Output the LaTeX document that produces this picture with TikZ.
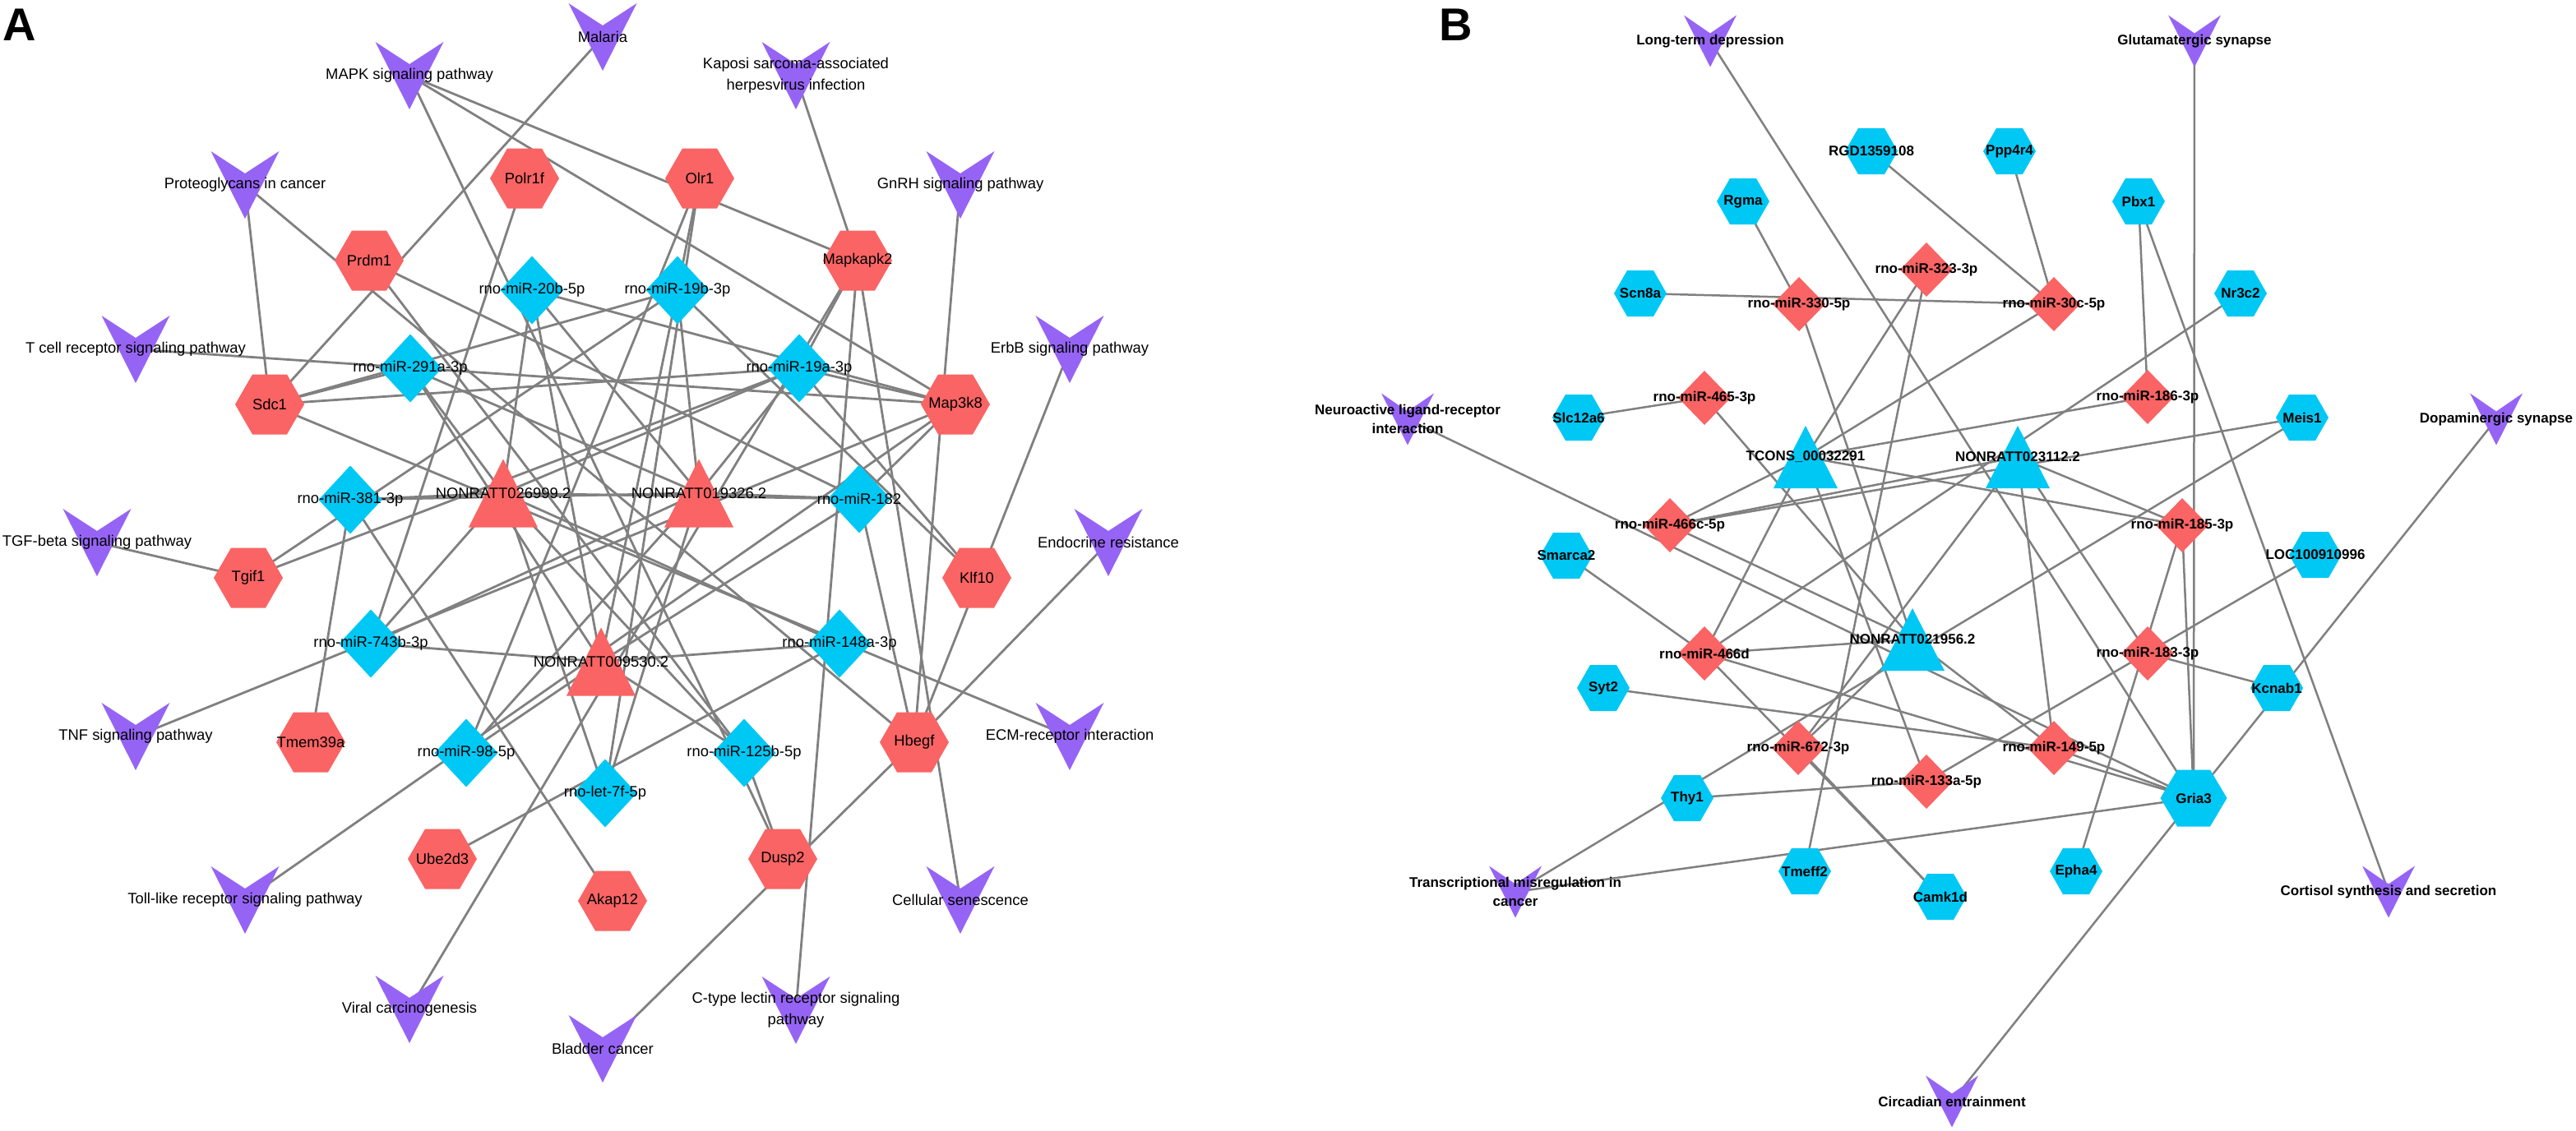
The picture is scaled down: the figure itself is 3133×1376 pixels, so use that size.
\documentclass[tikz,border=0pt]{standalone}
\usepackage{fontspec}
\setmainfont{Liberation Sans}
\pgfdeclarelayer{back}
\pgfdeclarelayer{bg}
\pgfsetlayers{back,bg,main}
\definecolor{redN}{RGB}{250,100,100}
\definecolor{blueN}{RGB}{0,200,245}
\definecolor{purN}{RGB}{150,100,245}
\definecolor{edgeC}{RGB}{128,128,128}
\tikzset{
  hexRA/.pic={\fill[redN] (-42,0)--(-21,-36.5)--(21,-36.5)--(42,0)--(21,36.5)--(-21,36.5)--cycle;},
  diaBA/.pic={\fill[blueN] (0,-41.5)--(38.5,0)--(0,41.5)--(-38.5,0)--cycle;},
  triRA/.pic={\fill[redN] (0,-41.5)--(42,41.5)--(-42,41.5)--cycle;},
  veeA/.pic={\fill[purN] (-41.5,-41)--(0,-14)--(41.5,-41)--(0,41)--cycle;},
  hexBB/.pic={\fill[blueN] (-32,0)--(-16,-28)--(16,-28)--(32,0)--(16,28)--(-16,28)--cycle;},
  hexBig/.pic={\fill[blueN] (-40.5,0)--(-20,-34.5)--(20,-34.5)--(40.5,0)--(20,34.5)--(-20,34.5)--cycle;},
  diaRB/.pic={\fill[redN] (0,-33)--(32,0)--(0,33)--(-32,0)--cycle;},
  triBB/.pic={\fill[blueN] (0,-38)--(39,38)--(-39,38)--cycle;},
  veeB/.pic={\fill[purN] (-32,-31.5)--(0,-9.5)--(32,-31.5)--(0,31.5)--cycle;},
  labA/.style={inner sep=0pt,align=center,font=\fontsize{18.4}{26}\selectfont},
  labB/.style={inner sep=0pt,align=center,font=\bfseries\fontsize{17}{23.5}\selectfont},
  edgA/.style={draw=edgeC,line width=2.8pt},
  edgB/.style={draw=edgeC,line width=2.5pt},
  panel/.style={inner sep=0pt,anchor=base west,font=\bfseries\fontsize{56}{56}\selectfont}
}
\newcommand\mkNd[6]{\pic at (#4,#5) {#1}; \node[#2] (#3) at (#4,#5) {#6};}
\begin{document}
\begin{tikzpicture}[x=1pt,y=-1pt]
\useasboundingbox (0,0) rectangle (3133,1376);
\begin{pgfonlayer}{back}
\fill[white] (0,0) rectangle (3133,1376);
\end{pgfonlayer}
\node[panel] (pA) at (3,49) {A};
\node[panel] (pB) at (1750,49) {B};
% ---------- Panel A ----------
\mkNd{veeA}{labA}{mapk}{498}{92}{MAPK signaling pathway}
\mkNd{veeA}{labA}{malaria}{733}{45}{Malaria}
\mkNd{veeA}{labA}{kaposi}{968}{92}{Kaposi sarcoma-associated\\herpesvirus infection}
\mkNd{veeA}{labA}{proteo}{298}{225}{Proteoglycans in cancer}
\mkNd{veeA}{labA}{gnrh}{1168}{225}{GnRH signaling pathway}
\mkNd{veeA}{labA}{tcell}{165}{425}{T cell receptor signaling pathway}
\mkNd{veeA}{labA}{erbb}{1301}{425}{ErbB signaling pathway}
\mkNd{veeA}{labA}{tgf}{118}{660}{TGF-beta signaling pathway}
\mkNd{veeA}{labA}{endo}{1348}{660}{Endocrine resistance}
\mkNd{veeA}{labA}{tnf}{165}{896}{TNF signaling pathway}
\mkNd{veeA}{labA}{ecm}{1301}{896}{ECM-receptor interaction}
\mkNd{veeA}{labA}{toll}{298}{1095}{Toll-like receptor signaling pathway}
\mkNd{veeA}{labA}{cell}{1168}{1095}{Cellular senescence}
\mkNd{veeA}{labA}{viral}{498}{1228}{Viral carcinogenesis}
\mkNd{veeA}{labA}{ctype}{968}{1229}{C-type lectin receptor signaling\\pathway}
\mkNd{veeA}{labA}{bladder}{733}{1276}{Bladder cancer}
\mkNd{hexRA}{labA}{polr1f}{638}{217}{Polr1f}
\mkNd{hexRA}{labA}{olr1}{851}{217}{Olr1}
\mkNd{hexRA}{labA}{prdm1}{449}{317}{Prdm1}
\mkNd{hexRA}{labA}{mapkapk2}{1043}{317}{Mapkapk2}
\mkNd{hexRA}{labA}{sdc1}{328}{492}{Sdc1}
\mkNd{hexRA}{labA}{map3k8}{1162}{492}{Map3k8}
\mkNd{hexRA}{labA}{tgif1}{302}{703}{Tgif1}
\mkNd{hexRA}{labA}{klf10}{1188}{703}{Klf10}
\mkNd{hexRA}{labA}{tmem39a}{378}{903}{Tmem39a}
\mkNd{hexRA}{labA}{hbegf}{1112}{903}{Hbegf}
\mkNd{hexRA}{labA}{ube2d3}{538}{1045}{Ube2d3}
\mkNd{hexRA}{labA}{dusp2}{952}{1045}{Dusp2}
\mkNd{hexRA}{labA}{akap12}{745}{1096}{Akap12}
\mkNd{diaBA}{labA}{m20b}{647}{353}{rno-miR-20b-5p}
\mkNd{diaBA}{labA}{m19b}{824}{353}{rno-miR-19b-3p}
\mkNd{diaBA}{labA}{m291a}{499}{448}{rno-miR-291a-3p}
\mkNd{diaBA}{labA}{m19a}{972}{448}{rno-miR-19a-3p}
\mkNd{diaBA}{labA}{m381}{426}{608}{rno-miR-381-3p}
\mkNd{diaBA}{labA}{m182}{1045}{607}{rno-miR-182}
\mkNd{diaBA}{labA}{m743b}{451}{783}{rno-miR-743b-3p}
\mkNd{diaBA}{labA}{m148a}{1021}{783}{rno-miR-148a-3p}
\mkNd{diaBA}{labA}{m98}{567}{916}{rno-miR-98-5p}
\mkNd{diaBA}{labA}{m125b}{905}{916}{rno-miR-125b-5p}
\mkNd{diaBA}{labA}{let7f}{736}{965}{rno-let-7f-5p}
\mkNd{triRA}{labA}{n026}{612}{600}{NONRATT026999.2}
\mkNd{triRA}{labA}{n019}{850}{600}{NONRATT019326.2}
\mkNd{triRA}{labA}{n009}{731}{805}{NONRATT009530.2}
% ---------- Panel B ----------
\mkNd{veeB}{labB}{ltd}{2080}{50}{Long-term depression}
\mkNd{veeB}{labB}{glut}{2669}{50}{Glutamatergic synapse}
\mkNd{veeB}{labB}{neuro}{1712}{510}{Neuroactive ligand-receptor\\interaction}
\mkNd{veeB}{labB}{dopa}{3036}{510}{Dopaminergic synapse}
\mkNd{veeB}{labB}{trans}{1843}{1085}{Transcriptional misregulation in\\cancer}
\mkNd{veeB}{labB}{cort}{2905}{1085}{Cortisol synthesis and secretion}
\mkNd{veeB}{labB}{circ}{2374}{1340}{Circadian entrainment}
\mkNd{hexBB}{labB}{rgma}{2120}{245}{Rgma}
\mkNd{hexBB}{labB}{rgd}{2276}{184}{RGD1359108}
\mkNd{hexBB}{labB}{ppp4r4}{2444}{184}{Ppp4r4}
\mkNd{hexBB}{labB}{pbx1}{2601}{245}{Pbx1}
\mkNd{hexBB}{labB}{scn8a}{1995}{357}{Scn8a}
\mkNd{hexBB}{labB}{nr3c2}{2725}{357}{Nr3c2}
\mkNd{hexBB}{labB}{slc12a6}{1920}{508}{Slc12a6}
\mkNd{hexBB}{labB}{meis1}{2800}{508}{Meis1}
\mkNd{hexBB}{labB}{smarca2}{1905}{676}{Smarca2}
\mkNd{hexBB}{labB}{loc}{2816}{675}{LOC100910996}
\mkNd{hexBB}{labB}{syt2}{1950}{837}{Syt2}
\mkNd{hexBB}{labB}{kcnab1}{2769}{837}{Kcnab1}
\mkNd{hexBB}{labB}{thy1}{2052}{971}{Thy1}
\mkNd{hexBig}{labB}{gria3}{2668}{971}{Gria3}
\mkNd{hexBB}{labB}{tmeff2}{2195}{1060}{Tmeff2}
\mkNd{hexBB}{labB}{epha4}{2525}{1060}{Epha4}
\mkNd{hexBB}{labB}{camk1d}{2360}{1091}{Camk1d}
\mkNd{diaRB}{labB}{m323}{2343}{328}{rno-miR-323-3p}
\mkNd{diaRB}{labB}{m330}{2188}{370}{rno-miR-330-5p}
\mkNd{diaRB}{labB}{m30c}{2498}{370}{rno-miR-30c-5p}
\mkNd{diaRB}{labB}{m465}{2073}{484}{rno-miR-465-3p}
\mkNd{diaRB}{labB}{m186}{2612}{483}{rno-miR-186-3p}
\mkNd{diaRB}{labB}{m466c}{2031}{639}{rno-miR-466c-5p}
\mkNd{diaRB}{labB}{m185}{2654}{639}{rno-miR-185-3p}
\mkNd{diaRB}{labB}{m466d}{2073}{795}{rno-miR-466d}
\mkNd{diaRB}{labB}{m183}{2612}{795}{rno-miR-183-3p}
\mkNd{diaRB}{labB}{m672}{2187}{910}{rno-miR-672-3p}
\mkNd{diaRB}{labB}{m149}{2498}{910}{rno-miR-149-5p}
\mkNd{diaRB}{labB}{m133a}{2343}{951}{rno-miR-133a-5p}
\mkNd{triBB}{labB}{tcons}{2196}{556}{TCONS\_00032291}
\mkNd{triBB}{labB}{n023}{2454}{556}{NONRATT023112.2}
\mkNd{triBB}{labB}{n021}{2326}{778}{NONRATT021956.2}
% ---------- edges ----------
\begin{pgfonlayer}{bg}
\foreach \a/\b in {mapk/mapkapk2,mapk/map3k8,mapk/dusp2,malaria/sdc1,kaposi/mapkapk2,proteo/sdc1,proteo/hbegf,
  gnrh/hbegf,erbb/hbegf,endo/hbegf,ecm/sdc1,cell/mapkapk2,ctype/mapkapk2,bladder/hbegf,viral/mapkapk2,
  toll/map3k8,tnf/map3k8,tcell/map3k8,tgf/tgif1,
  prdm1/m182,prdm1/m125b,sdc1/m291a,sdc1/m19b,sdc1/m19a,polr1f/m743b,olr1/m19b,olr1/m98,olr1/let7f,
  mapkapk2/m19a,map3k8/m20b,map3k8/m19a,map3k8/m182,klf10/m19a,klf10/m19b,tgif1/m19b,tgif1/m19a,
  tmem39a/m381,akap12/m381,hbegf/m182,dusp2/m125b,ube2d3/m148a,
  n026/m381,n026/m20b,n026/m743b,n026/m291a,n026/m19a,n026/m148a,n026/m125b,n026/let7f,n026/m182,
  n019/m182,n019/m381,n019/m19a,n019/m19b,n019/m20b,n019/m98,n019/m743b,n019/let7f,n019/m291a,
  n009/m291a,n009/m20b,n009/m148a,n009/m125b,n009/m182,n009/m19b,n009/m98,n009/m743b}
  \draw[edgA] (\a.center) -- (\b.center);
\foreach \a/\b in {ltd/gria3,glut/gria3,neuro/gria3,dopa/gria3,circ/gria3,trans/meis1,trans/gria3,cort/pbx1,
  rgma/m330,rgd/m30c,ppp4r4/m30c,pbx1/m186,scn8a/m30c,slc12a6/m465,nr3c2/m466d,meis1/m466c,smarca2/m466d,
  syt2/m149,thy1/m133a,tmeff2/m323,camk1d/m672,camk1d/m466d,epha4/m185,kcnab1/m183,loc/m133a,
  gria3/m149,gria3/m466d,gria3/m185,m330/n021,
  tcons/m323,tcons/m30c,tcons/m186,tcons/m466c,tcons/m466d,tcons/m133a,tcons/m185,
  n023/m466c,n023/m185,n023/m149,n023/m672,n023/m183,
  n021/m466d,n021/m465,n021/m466c,n021/m672,n021/m149}
  \draw[edgB] (\a.center) -- (\b.center);
\end{pgfonlayer}
\end{tikzpicture}
\end{document}
